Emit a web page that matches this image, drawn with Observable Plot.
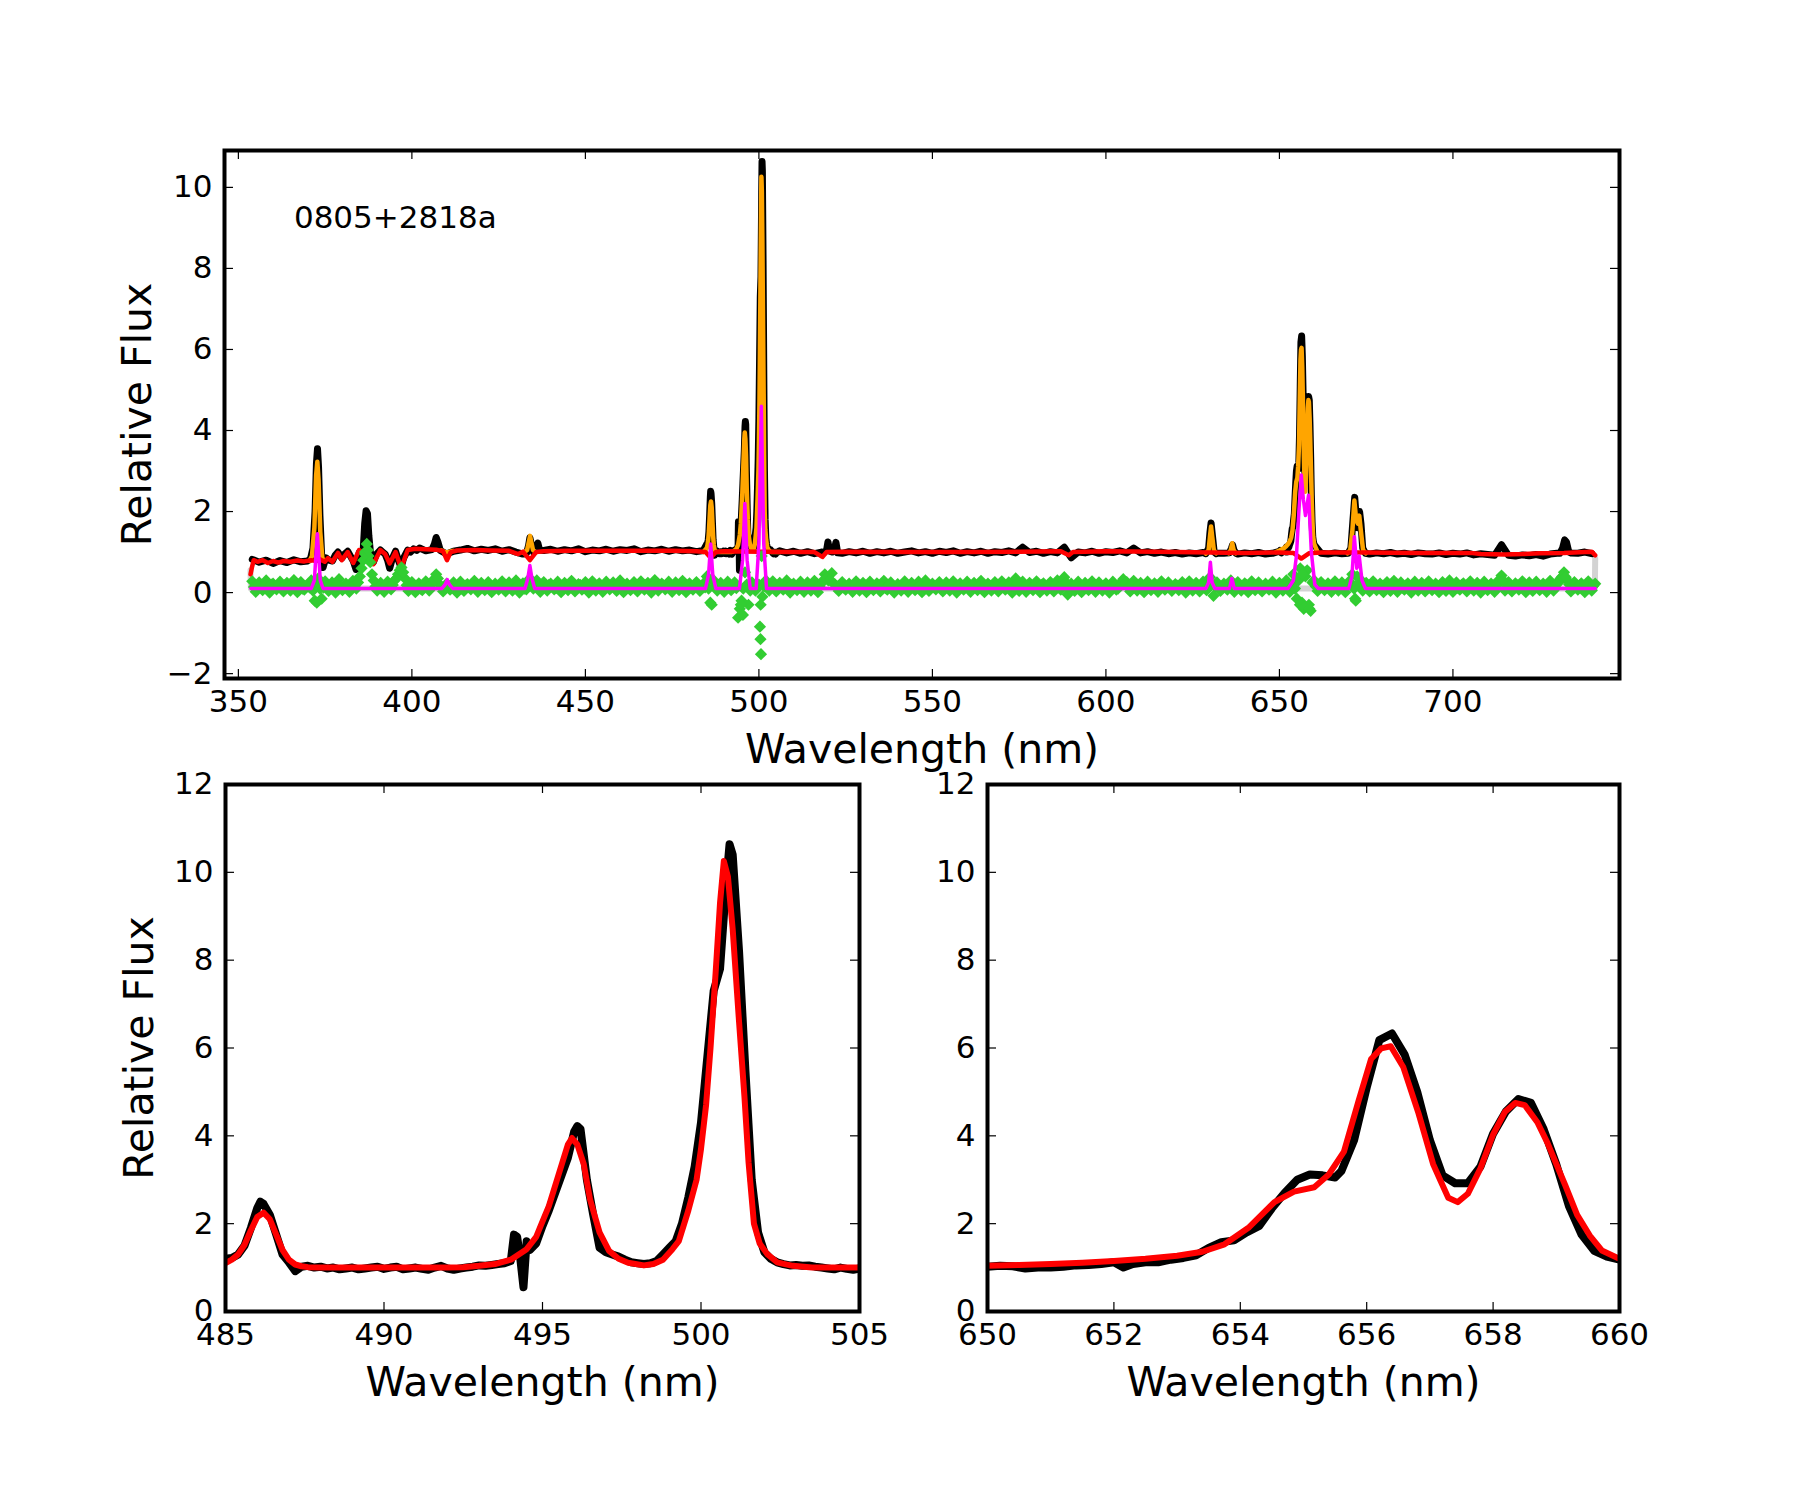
<!DOCTYPE html>
<html>
<head>
<meta charset="utf-8">
<script src="https://cdn.jsdelivr.net/npm/d3@7"></script>
<script src="https://cdn.jsdelivr.net/npm/@observablehq/plot@0.6"></script>
<style>
  body { margin: 0; background: #fff; }
  #fig { position: relative; width: 1800px; height: 1500px; background: #fff; font-family: "DejaVu Sans", sans-serif; }
  #fig > div { position: absolute; }
</style>
</head>
<body>
<div id="fig">
  <div id="top" style="left:0;top:100px"></div>
  <div id="bl" style="left:0;top:740px"></div>
  <div id="br" style="left:900px;top:740px"></div>
</div>
<script>
// ---------------- object & axes ----------------
const objectName = "0805+2818a";
const objectLabelAt = {wave: 366, flux: 9};

const topXTicks = [350, 400, 450, 500, 550, 600, 650, 700];
const topYTicks = [-2, 0, 2, 4, 6, 8, 10];
const hbXTicks = [485, 490, 495, 500, 505];
const haXTicks = [650, 652, 654, 656, 658, 660];
const zoomYTicks = [0, 2, 4, 6, 8, 10, 12];

// ---------------- observed spectrum ----------------
// continuum samples every 2 nm starting at 354 nm
const obsContStart = 354, obsContStep = 2;
const obsCont = [
  0.82,0.75,0.80,0.72,0.79,0.74,0.81,0.76,0.78,0.85,
  0.70,0.85,0.80,0.92,0.85,0.95,0.60,1.00,0.90,0.95,
  0.70,0.85,0.65,1.02,1.06,1.03,1.08,1.04,0.95,1.02,
  1.05,1.09,1.03,1.07,1.04,1.08,1.02,1.06,1.00,0.95,
  1.30,1.10,1.04,1.07,1.02,1.06,1.03,1.08,1.01,1.05,
  1.03,1.07,1.02,1.06,1.04,1.08,1.01,1.05,1.03,1.07,
  1.02,1.06,1.03,1.05,1.01,1.04,1.00,1.02,0.98,1.02,
  1.00,1.00,1.00,1.00,1.00,1.00,1.03,0.98,1.02,0.97,
  1.01,0.96,1.00,1.00,1.00,0.97,1.01,0.98,1.02,0.97,
  1.01,0.98,1.02,0.97,1.00,1.03,0.98,1.01,0.97,1.02,
  0.99,1.03,0.97,1.01,0.98,1.02,0.97,1.01,0.99,1.03,
  0.98,1.12,0.99,1.02,0.97,1.01,0.98,1.12,0.86,1.00,
  0.98,1.02,0.97,1.01,0.99,1.03,0.98,1.10,0.98,1.01,
  0.97,1.00,0.96,0.99,0.95,0.98,0.96,0.99,0.95,0.98,
  0.97,1.00,0.95,0.98,0.96,0.99,0.95,0.97,0.96,0.98,
  1.00,1.00,1.00,1.00,0.97,0.95,0.98,0.96,0.99,0.96,
  0.97,0.95,0.98,0.96,0.99,0.95,0.97,0.94,0.98,0.96,
  0.95,0.98,0.94,0.97,0.95,0.98,0.93,0.96,0.94,0.92,
  1.18,0.92,0.90,0.93,0.91,0.94,0.90,0.95,0.97,0.96,
  0.98,0.97,1.00,0.96
];

// blue end: [O II], Balmer series, [Ne III], Ca II
const obsBlue = [
  [370.8,0.84],[371.5,1.10],[372.1,2.00],[372.5,3.20],[372.8,3.55],[373.1,3.10],[373.5,1.90],[374.0,0.90],
  [374.4,0.62],[375.2,0.86],[376.0,0.80],[377.1,0.78],[377.9,0.92],[378.7,1.00],[379.8,0.85],[380.6,0.95],
  [381.5,1.02],[382.3,0.90],[383.1,0.78],[383.9,0.57],[384.8,0.98],[385.5,0.90],[386.0,1.10],[386.4,1.70],
  [386.8,2.02],[387.2,1.95],[387.6,1.40],[388.1,0.95],[388.9,0.75],[389.8,0.95],[390.9,1.05],[391.6,1.00],
  [392.3,0.95],[393.0,0.80],[393.6,0.60],[394.4,0.85],[395.3,1.02],[396.1,0.80],[396.9,0.62],[397.6,0.85],
  [398.8,1.05],[399.6,1.00],[400.5,1.08],[401.4,1.04],[402.2,1.10]
];
const obsSII4069 = [[405.8,1.06],[406.5,1.20],[407.0,1.36],[407.5,1.25],[408.2,1.04]];
const obsHg = [[433.0,0.96],[433.6,1.15],[434.0,1.35],[434.4,1.20],[435.0,1.00],[435.8,1.10],[436.3,1.22],[436.8,1.05]];
const obsNI = [[518.8,0.99],[519.5,1.05],[519.9,1.25],[520.4,1.02],[521.2,1.00],[521.8,1.08],[522.2,1.24],[522.7,0.98]];
const obsOI6300 = [[628.8,0.96],[629.6,1.10],[630.0,1.50],[630.3,1.72],[630.7,1.40],[631.2,1.00],[631.8,0.96]];
const obsOI6364 = [[635.6,0.98],[636.2,1.10],[636.5,1.18],[636.9,1.05],[637.5,0.97]];
const obsSII = [[669.8,0.97],[670.6,1.10],[671.2,1.80],[671.7,2.35],[672.1,1.90],[672.6,1.60],[673.1,2.00],[673.5,1.70],[674.0,1.10],[674.8,0.97]];
const obsOII7320 = [[730.8,0.97],[731.6,1.10],[732.2,1.30],[732.7,1.25],[733.4,1.00]];

// H-beta + [O III] region
const obsHbOIII = [
  [485.0,1.20],[485.2,1.22],[485.4,1.30],[485.6,1.50],[485.8,1.90],[486.0,2.35],[486.1,2.50],[486.2,2.45],
  [486.4,2.20],[486.6,1.75],[486.8,1.30],[487.0,1.12],[487.2,0.92],[487.4,1.02],[487.6,1.04],[487.8,1.00],
  [488.0,1.02],[488.2,0.98],[488.4,1.00],[488.6,0.96],[488.8,0.98],[489.0,1.00],[489.2,0.96],[489.4,0.98],
  [489.6,1.00],[489.8,1.02],[490.0,0.97],[490.2,1.00],[490.4,1.02],[490.6,0.96],[490.8,0.98],[491.0,1.00],
  [491.2,0.97],[491.4,0.95],[491.6,1.00],[491.8,1.04],[492.0,0.98],[492.2,0.95],[492.4,0.98],[492.6,1.00],
  [492.8,1.02],[493.0,1.05],[493.2,1.04],[493.4,1.06],[493.6,1.08],[493.8,1.10],[494.0,1.15],[494.1,1.75],
  [494.2,1.70],[494.3,1.20],[494.4,0.55],[494.5,1.60],[494.6,1.40],[494.8,1.55],[495.0,1.95],[495.2,2.30],
  [495.4,2.70],[495.6,3.10],[495.8,3.50],[496.0,4.10],[496.1,4.22],[496.2,4.15],[496.4,3.00],[496.6,2.20],
  [496.8,1.45],[497.0,1.35],[497.2,1.30],[497.4,1.25],[497.6,1.18],[497.8,1.12],[498.0,1.10],[498.2,1.08],
  [498.4,1.10],[498.6,1.15],[498.8,1.30],[499.0,1.45],[499.2,1.60],[499.4,2.00],[499.6,2.60],[499.8,3.30],
  [500.0,4.30],[500.2,5.80],[500.4,7.30],[500.6,7.80],[500.8,9.80],[500.9,10.64],[501.0,10.40],[501.2,8.20],
  [501.4,5.50],[501.6,3.00],[501.8,1.80],[502.0,1.35],[502.2,1.20],[502.4,1.12],[502.6,1.08],[502.8,1.05],
  [503.0,1.06],[503.2,1.04],[503.4,1.05],[503.6,1.02],[503.8,1.00],[504.0,0.98],[504.2,0.96],[504.4,1.00],
  [504.6,0.97],[504.8,0.95],[505.0,0.98]
];

// H-alpha + [N II] region
const obsHaNII = [
  [650.0,1.02],[650.2,1.04],[650.4,1.03],[650.6,0.98],[650.8,1.00],[651.0,1.00],[651.2,1.02],[651.4,1.05],
  [651.6,1.06],[651.8,1.08],[652.0,1.12],[652.15,1.00],[652.3,1.08],[652.5,1.12],[652.7,1.12],[652.9,1.18],
  [653.1,1.22],[653.3,1.28],[653.5,1.45],[653.7,1.58],[653.9,1.62],[654.1,1.80],[654.3,1.95],[654.5,2.35],
  [654.7,2.70],[654.9,3.00],[655.1,3.12],[655.3,3.10],[655.5,3.05],[655.6,3.20],[655.8,3.90],[656.0,5.10],
  [656.2,6.18],[656.4,6.33],[656.6,5.85],[656.8,5.00],[657.0,3.90],[657.2,3.10],[657.4,2.92],[657.6,2.92],
  [657.8,3.30],[658.0,4.05],[658.2,4.55],[658.4,4.84],[658.6,4.75],[658.8,4.15],[659.0,3.35],[659.2,2.40],
  [659.4,1.75],[659.6,1.38],[659.8,1.25],[660.0,1.18]
];

// ---------------- fitted model (stellar + emission) ----------------
const modelOII = [[370.5,0.78],[371.2,0.90],[371.9,1.60],[372.4,2.90],[372.75,3.23],[373.1,2.80],[373.6,1.50],[374.2,0.85],[374.9,0.78]];
const modelHd = [[408.4,1.04],[409.3,1.01],[410.1,0.99],[410.9,1.01],[411.8,1.03]];
const modelHg = [[432.2,0.98],[433.2,1.05],[433.7,1.25],[434.05,1.40],[434.4,1.25],[434.9,1.05],[435.8,0.99]];
const modelHbOIII = [
  [484.0,1.00],[485.0,1.10],[485.2,1.18],[485.4,1.30],[485.6,1.52],[485.8,1.85],[486.0,2.15],[486.2,2.25],
  [486.4,2.10],[486.6,1.75],[486.8,1.40],[487.0,1.18],[487.2,1.07],[487.4,1.03],[487.6,1.01],[488.0,1.00],
  [489.0,1.00],[490.0,1.00],[491.0,1.00],[492.0,1.00],[492.5,1.01],[493.0,1.04],[493.5,1.08],[494.0,1.18],
  [494.5,1.42],[494.8,1.70],[495.0,2.05],[495.2,2.40],[495.5,3.10],[495.8,3.80],[495.93,3.95],[496.1,3.80],
  [496.3,3.36],[496.5,2.55],[496.8,1.80],[497.1,1.38],[497.4,1.20],[497.7,1.11],[498.2,1.05],[498.5,1.08],
  [498.8,1.18],[499.1,1.42],[499.3,1.60],[499.6,2.30],[499.86,3.00],[500.0,3.70],[500.16,4.70],[500.3,6.00],
  [500.46,7.70],[500.6,9.30],[500.72,10.26],[500.85,9.90],[501.0,8.70],[501.2,6.60],[501.37,4.90],[501.5,3.40],
  [501.67,2.00],[501.85,1.55],[502.1,1.30],[502.4,1.12],[502.9,1.04],[503.5,1.00],[505.0,1.00],[506.0,1.00]
];
const modelOI6300 = [[628.8,0.96],[629.6,1.05],[630.0,1.40],[630.3,1.63],[630.6,1.40],[631.1,1.05],[631.8,0.97]];
const modelOI6364 = [[635.4,0.97],[636.0,1.05],[636.4,1.22],[636.8,1.05],[637.4,0.97]];
const modelHaNII = [
  [649.0,1.00],[650.0,1.04],[650.5,1.06],[651.0,1.08],[651.5,1.11],[652.0,1.15],[652.5,1.20],[653.0,1.27],
  [653.4,1.36],[653.75,1.53],[654.14,1.92],[654.54,2.49],[654.85,2.73],[655.17,2.83],[655.4,3.12],[655.64,3.64],
  [655.87,4.79],[656.07,5.75],[656.23,5.99],[656.38,6.04],[656.58,5.56],[656.82,4.51],[657.05,3.36],[657.17,2.97],
  [657.29,2.59],[657.44,2.49],[657.6,2.68],[657.8,3.26],[658.0,4.03],[658.19,4.55],[658.35,4.75],[658.5,4.70],
  [658.7,4.31],[658.86,3.84],[659.14,2.88],[659.33,2.20],[659.53,1.73],[659.72,1.39],[660.0,1.20],[661.0,1.00]
];
const modelSII = [[669.6,0.97],[670.4,1.05],[671.0,1.50],[671.6,2.27],[672.1,1.80],[672.6,1.70],[673.0,1.90],[673.5,1.50],[674.1,1.05],[674.9,0.97]];

// ---------------- stellar continuum fit ----------------
const stellar = [
  [353.5,0.45],[353.9,0.62],[354.4,0.80],[355.5,0.76],[357,0.80],[358.5,0.73],[360,0.78],[361.5,0.74],
  [363,0.78],[365,0.76],[367,0.79],[369,0.77],[371,0.80],[372.5,0.78],[373.5,0.82],[374.9,0.76],
  [375.8,0.85],[377.1,0.76],[378.7,0.98],[379.8,0.80],[381.5,1.00],[383.1,0.73],[384.8,1.05],[386.4,0.95],
  [387.5,0.92],[388.9,0.70],[390.9,1.05],[392.3,0.95],[393.6,0.72],[395.3,1.00],[396.9,0.60],[398.8,1.05],
  [401,1.08],[404,1.07],[407,1.06],[409,1.02],[410.1,0.80],[411.2,1.00],[413,1.04],[418,1.05],
  [423,1.04],[428,1.03],[430.6,0.95],[432,1.01],[434.0,0.80],[435.8,1.00],[438,1.02],[445,1.03],
  [455,1.03],[465,1.03],[475,1.03],[482,1.02],[484.6,1.00],[486.1,0.86],[487.6,1.00],[490,1.02],
  [500,1.01],[510,1.00],[516,1.00],[518.3,0.88],[519.5,1.00],[525,1.01],[540,1.00],[560,1.00],
  [575,1.01],[587,1.02],[589.3,0.92],[590.5,1.00],[600,1.02],[615,1.01],[630,0.99],[640,0.98],
  [650,0.99],[654,0.98],[656.3,0.84],[658.5,0.97],[662,0.99],[675,0.99],[690,0.98],[705,0.98],
  [708,0.95],[715,0.94],[720,0.95],[725,0.97],[732,0.98],[738,1.00],[740,1.01],[741,0.92]
];

// ---------------- emission-line component (offset 0.1) ----------------
const emission = [
  [353.6,0.1],[371.0,0.1],[371.9,0.3],[372.4,1.0],[372.75,1.45],[373.1,1.0],[373.6,0.3],[374.4,0.1],
  [408.6,0.1],[409.6,0.2],[410.2,0.32],[410.8,0.2],[411.8,0.1],
  [432.6,0.1],[433.4,0.35],[434.0,0.67],[434.6,0.35],[435.4,0.1],
  [484.6,0.1],[485.5,0.45],[486.1,1.2],[486.7,0.45],[487.6,0.1],
  [494.4,0.1],[495.3,0.8],[495.95,2.2],[496.6,0.8],[497.5,0.1],
  [499.2,0.1],[500.0,1.2],[500.7,4.6],[501.4,1.2],[502.2,0.1],
  [628.8,0.1],[629.6,0.25],[630.1,0.75],[630.6,0.25],[631.4,0.1],
  [635.6,0.1],[636.3,0.35],[637.0,0.1],
  [652.5,0.1],[654.0,0.3],[654.9,0.9],[655.6,2.0],[656.3,2.9],[656.9,2.3],[657.5,1.9],[658.4,2.4],
  [659.2,1.0],[660.2,0.2],[661.2,0.1],
  [670.0,0.1],[670.9,0.4],[671.6,1.38],[672.3,0.6],[673.0,0.9],[673.8,0.3],[674.8,0.1],
  [741.0,0.1]
];

// ---------------- residuals, one per nm from 354 nm ----------------
const residStart = 354;
const resid = [
  0.28,0.02,0.25,0.06,0.30,0.00,0.22,0.08,0.27,0.03,
  0.24,0.05,0.31,0.01,0.26,0.07,0.20,0.30,-0.20,0.35,
  -0.15,0.28,0.04,0.25,0.00,0.33,0.06,0.22,0.02,0.29,
  0.10,0.40,0.80,1.20,0.75,0.30,0.05,0.24,0.02,0.27,
  0.08,0.30,0.45,0.62,0.35,0.04,0.26,0.01,0.23,0.06,
  0.28,0.05,0.30,0.45,0.20,0.03,0.22,0.07,0.25,0.00,
  0.27,0.04,0.21,0.08,0.29,0.02,0.24,0.06,0.26,0.01,
  0.22,0.07,0.28,0.03,0.25,0.05,0.30,0.00,0.23,0.08,
  0.35,0.10,0.30,0.02,0.26,0.05,0.22,0.08,0.27,0.01,
  0.24,0.06,0.29,0.03,0.21,0.07,0.26,0.00,0.28,0.05,
  0.23,0.02,0.27,0.08,0.25,0.04,0.30,0.01,0.22,0.06,
  0.26,0.03,0.28,0.07,0.24,0.00,0.31,0.05,0.22,0.08,
  0.27,0.02,0.25,0.06,0.29,0.01,0.23,0.07,0.26,0.04,
  0.22,0.40,-0.25,0.30,0.05,0.24,0.02,0.27,0.06,0.25,
  -0.62,-0.20,0.50,-0.30,0.25,0.05,0.20,-0.10,0.30,0.05,
  0.28,0.03,0.24,0.07,0.30,0.00,0.22,0.06,0.27,0.02,
  0.25,0.05,0.29,0.01,0.23,0.45,0.30,0.48,0.20,0.04,
  0.26,0.07,0.22,0.02,0.28,0.05,0.24,0.01,0.27,0.06,
  0.23,0.03,0.29,0.07,0.25,0.00,0.21,0.05,0.28,0.02,
  0.24,0.06,0.27,0.01,0.30,0.04,0.22,0.08,0.26,0.03,
  0.25,0.05,0.28,0.00,0.23,0.07,0.27,0.02,0.24,0.06,
  0.29,0.01,0.22,0.05,0.26,0.03,0.28,0.07,0.25,0.00,
  0.35,0.04,0.27,0.02,0.24,0.06,0.28,0.01,0.23,0.05,
  0.26,0.03,0.30,0.07,0.38,-0.05,0.22,0.04,0.27,0.01,
  0.24,0.06,0.28,0.02,0.25,0.05,0.23,0.00,0.27,0.07,
  0.22,0.33,0.26,0.03,0.29,0.05,0.24,0.01,0.27,0.06,
  0.23,0.02,0.28,0.07,0.25,0.04,0.21,0.06,0.26,0.00,
  0.28,0.05,0.24,0.03,0.27,0.06,0.38,-0.08,0.25,0.04,
  0.22,0.07,0.30,0.02,0.26,0.05,0.23,0.01,0.28,0.06,
  0.25,0.03,0.22,0.07,0.27,0.00,0.24,0.05,0.30,0.02,
  0.45,-0.15,0.60,-0.40,0.55,-0.45,0.30,0.04,0.26,0.06,
  0.23,0.02,0.28,0.05,0.25,0.01,0.27,0.45,-0.20,0.35,
  0.05,0.24,0.03,0.28,0.06,0.22,0.01,0.26,0.04,0.29,
  0.02,0.25,0.07,0.23,0.00,0.27,0.05,0.24,0.03,0.28,
  0.06,0.22,0.01,0.26,0.04,0.30,0.02,0.25,0.07,0.23,
  0.03,0.28,0.05,0.24,0.00,0.27,0.06,0.22,0.02,0.29,
  0.42,0.05,0.26,0.03,0.23,0.07,0.28,0.01,0.25,0.04,
  0.27,0.06,0.22,0.02,0.29,0.05,0.24,0.35,0.50,0.30,
  0.03,0.26,0.07,0.23,0.01,0.28,0.05,0.22
];
// residuals at the half-nm samples, from 354.5 nm
const residHalfStart = 354.5;
const residHalf = [
  0.14,0.18,0.12,0.16,0.10,0.20,0.13,0.17,0.11,0.19,
  0.15,0.12,0.18,0.14,0.10,0.16,0.13,0.05,0.20,0.10,
  0.12,0.17,0.14,0.11,0.19,0.15,0.13,0.16,0.12,0.18,
  0.25,0.60,1.00,0.90,0.45,0.15,0.14,0.11,0.17,0.13,
  0.19,0.35,0.55,0.50,0.18,0.12,0.16,0.14,0.10,0.17,
  0.13,0.19,0.30,0.35,0.15,0.12,0.18,0.11,0.16,0.14,
  0.10,0.17,0.13,0.19,0.15,0.12,0.16,0.11,0.18,0.14,
  0.13,0.16,0.12,0.19,0.15,0.11,0.17,0.14,0.10,0.25,
  0.22,0.18,0.13,0.16,0.12,0.19,0.15,0.11,0.17,0.14,
  0.12,0.18,0.15,0.13,0.19,0.11,0.16,0.14,0.10,0.17,
  0.15,0.12,0.18,0.13,0.16,0.19,0.11,0.15,0.14,0.17,
  0.12,0.16,0.14,0.19,0.10,0.17,0.13,0.15,0.18,0.12,
  0.16,0.13,0.19,0.11,0.15,0.17,0.12,0.18,0.14,0.16,
  0.13,0.10,0.30,0.15,0.17,0.12,0.16,0.14,0.19,0.11,
  -0.40,0.10,0.20,0.05,0.18,0.12,-0.30,0.15,0.17,0.13,
  0.16,0.12,0.18,0.14,0.11,0.19,0.13,0.15,0.17,0.12,
  0.15,0.18,0.13,0.16,0.30,0.35,0.32,0.22,0.14,0.17,
  0.12,0.16,0.14,0.19,0.11,0.15,0.18,0.13,0.16,0.12,
  0.17,0.14,0.11,0.19,0.15,0.13,0.16,0.12,0.18,0.14,
  0.16,0.11,0.17,0.13,0.19,0.15,0.12,0.18,0.14,0.10,
  0.15,0.18,0.12,0.16,0.14,0.19,0.11,0.17,0.13,0.15,
  0.12,0.16,0.18,0.13,0.15,0.11,0.19,0.14,0.17,0.12,
  0.22,0.15,0.13,0.18,0.11,0.16,0.14,0.19,0.12,0.17,
  0.14,0.18,0.12,0.20,0.25,0.10,0.15,0.17,0.13,0.16,
  0.11,0.19,0.14,0.16,0.12,0.18,0.15,0.13,0.17,0.10,
  0.20,0.22,0.13,0.17,0.12,0.16,0.14,0.19,0.11,0.15,
  0.18,0.13,0.16,0.12,0.19,0.14,0.17,0.11,0.15,0.18,
  0.12,0.16,0.14,0.19,0.13,0.17,0.20,0.15,0.12,0.16,
  0.14,0.18,0.22,0.13,0.16,0.11,0.19,0.15,0.12,0.17,
  0.13,0.16,0.12,0.18,0.14,0.17,0.11,0.19,0.15,0.20,
  0.10,0.30,-0.25,0.40,-0.30,0.25,0.15,0.13,0.17,0.12,
  0.16,0.14,0.18,0.12,0.15,0.19,0.25,0.10,0.20,0.15,
  0.13,0.17,0.12,0.16,0.14,0.18,0.11,0.15,0.19,0.13,
  0.16,0.12,0.18,0.14,0.11,0.17,0.15,0.13,0.19,0.12,
  0.15,0.17,0.13,0.16,0.12,0.18,0.14,0.11,0.19,0.15,
  0.13,0.16,0.12,0.18,0.15,0.11,0.17,0.14,0.19,0.25,
  0.30,0.13,0.16,0.12,0.18,0.14,0.17,0.11,0.15,0.19,
  0.13,0.16,0.12,0.18,0.14,0.17,0.25,0.40,0.38,0.20,
  0.15,0.12,0.18,0.14,0.16,0.11,0.17
];
// extra residual points inside the strongest lines
const residLines = [
  [372.6,-0.25],[386.5,0.95],[387.3,1.05],[486.4,-0.30],[494.8,-0.30],[495.4,-0.55],
  [500.3,-0.84],[500.45,-1.15],[500.6,-1.52],[500.8,0.90],[655.9,-0.30],[656.6,0.45],
  [657.2,-0.35],[658.6,-0.40],[671.8,-0.15],[672.4,0.40]
];

// edge markers of the fitted wavelength window
const fitEdges = [[353.5,0.55],[353.6,0.1],[740.9,0.1],[741.0,0.85]];

// ---------------- assembling series ----------------
function merge(cont, windows) {
  const spans = windows.map(w => [w[0][0], w[w.length - 1][0]]);
  const kept = cont.filter(([x]) => !spans.some(([a, b]) => x >= a && x <= b));
  return [...kept, ...windows.flat()].sort((p, q) => p[0] - q[0]);
}
const obsTop = merge(
  obsCont.map((f, i) => [obsContStart + obsContStep * i, f]),
  [obsBlue, obsSII4069, obsHg, obsHbOIII, obsNI, obsOI6300, obsOI6364, obsHaNII, obsSII, obsOII7320]
);
const modelSegments = [modelOII, modelHd, modelHg, modelHbOIII, modelOI6300, modelOI6364, modelHaNII, modelSII]
  .flatMap((seg, k) => seg.map(([w, f]) => ({w, f, seg: k})));
const residTop = [
  ...resid.map((f, i) => [residStart + i, f]),
  ...residHalf.map((f, i) => [residHalfStart + i, f]),
  ...residLines
];

const fmt = d => (d < 0 ? "\u2212" + Math.abs(d) : String(d));
const X = d => d[0], Y = d => d[1];
const FONT = "DejaVu Sans";

function frameMarks(xt, yt, plotW, plotH) {
  const t = {stroke: "black", strokeWidth: 1.2};
  return [
    Plot.tickX(xt, {x: d => d, insetTop: plotH - 9, ...t}),
    Plot.tickX(xt, {x: d => d, insetBottom: plotH - 9, ...t}),
    Plot.tickY(yt, {y: d => d, insetRight: plotW - 9, ...t}),
    Plot.tickY(yt, {y: d => d, insetLeft: plotW - 9, ...t}),
    Plot.text(xt, {x: d => d, text: fmt, frameAnchor: "bottom", dy: 11, lineAnchor: "top", fontSize: 31, fill: "black"}),
    Plot.text(yt, {y: d => d, text: fmt, frameAnchor: "left", dx: -12, textAnchor: "end", lineAnchor: "middle", fontSize: 31, fill: "black"}),
    Plot.frame({stroke: "black", strokeWidth: 4})
  ];
}
const xLabel = () => Plot.text(["Wavelength (nm)"], {frameAnchor: "bottom", dy: 71, textAnchor: "middle", lineAnchor: "middle", fontSize: 41, fill: "black"});
const yLabel = (dx) => Plot.text(["Relative Flux"], {frameAnchor: "left", dx, rotate: -90, textAnchor: "middle", lineAnchor: "middle", fontSize: 41, fill: "black"});
const baseStyle = {background: "none", overflow: "visible", fontFamily: FONT, color: "black"};

// ---------------- full spectrum ----------------
{
  const W = 1800, H = 700, m = {top: 50, right: 181, bottom: 122, left: 224};
  const chart = Plot.plot({
    width: W, height: H,
    marginTop: m.top, marginRight: m.right, marginBottom: m.bottom, marginLeft: m.left,
    style: baseStyle,
    x: {domain: [346, 748], axis: null},
    y: {domain: [-2.12, 10.91], axis: null},
    marks: [
      Plot.line(fitEdges, {x: X, y: Y, stroke: "#d3d3d3", strokeWidth: 6}),
      Plot.line(obsTop, {x: X, y: Y, stroke: "black", strokeWidth: 7, strokeLinejoin: "round", clip: true}),
      Plot.line(modelSegments, {x: "w", y: "f", z: "seg", stroke: "orange", strokeWidth: 4.5, strokeLinejoin: "round", clip: true}),
      Plot.line(stellar, {x: X, y: Y, stroke: "red", strokeWidth: 4.5, strokeLinejoin: "round", clip: true}),
      Plot.dot(residTop, {x: X, y: Y, symbol: "diamond2", r: 5.5, fill: "limegreen", stroke: "none", clip: true}),
      Plot.line(emission, {x: X, y: Y, stroke: "magenta", strokeWidth: 3.5, strokeLinejoin: "round", clip: true}),
      Plot.text([objectLabelAt], {x: "wave", y: "flux", text: () => objectName, textAnchor: "start", lineAnchor: "bottom", fontSize: 31, fill: "black"}),
      ...frameMarks(topXTicks, topYTicks, W - m.left - m.right, H - m.top - m.bottom),
      xLabel(),
      yLabel(-87)
    ]
  });
  document.getElementById("top").append(chart);
}

// ---------------- zoom panels ----------------
function zoomPanel(el, obs, model, xDomain, xTicks, m, withYLabel) {
  const W = 900, H = 700;
  const chart = Plot.plot({
    width: W, height: H,
    marginTop: m.top, marginRight: m.right, marginBottom: m.bottom, marginLeft: m.left,
    style: baseStyle,
    x: {domain: xDomain, axis: null},
    y: {domain: [0, 12], axis: null},
    marks: [
      Plot.line(obs, {x: X, y: Y, stroke: "black", strokeWidth: 8, strokeLinejoin: "round", clip: true}),
      Plot.line(model, {x: X, y: Y, stroke: "red", strokeWidth: 6, strokeLinejoin: "round", clip: true}),
      ...frameMarks(xTicks, zoomYTicks, W - m.left - m.right, H - m.top - m.bottom),
      xLabel(),
      ...(withYLabel ? [yLabel(-86)] : [])
    ]
  });
  document.getElementById(el).append(chart);
}
zoomPanel("bl", obsHbOIII, modelHbOIII, [485, 505], hbXTicks, {top: 44, right: 41, bottom: 129, left: 225}, true);
zoomPanel("br", obsHaNII, modelHaNII, [650, 660], haXTicks, {top: 44, right: 181, bottom: 129, left: 87}, false);
</script>
</body>
</html>
